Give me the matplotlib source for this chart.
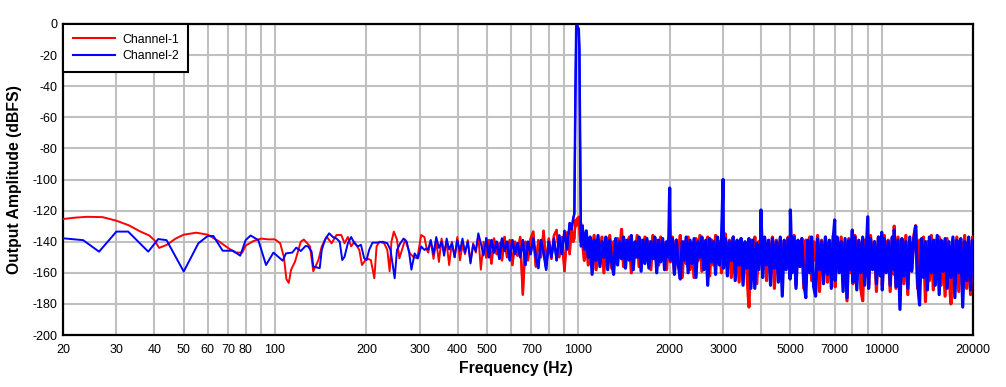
import matplotlib
matplotlib.use("Agg")
import matplotlib.pyplot as plt

plt.rcParams['font.family'] = ['Liberation Sans', 'DejaVu Sans']

# ---------------- data ----------------
freq_low_ch1 = [20, 22, 24, 27, 30, 33, 36, 38.5, 40, 41.5, 44, 47, 50, 55, 60, 65, 70, 74, 78, 80,
                85, 90, 95, 100, 104, 107, 109, 111, 113, 116.4, 121.6, 124.4, 130.4, 133.7, 139,
                142.6, 148, 153.6, 159.5, 165.4, 169.5, 173.8, 178.2, 182.7, 189.6, 193.5, 200.4,
                207, 212.5, 216.2, 220.7, 229, 234.5, 238.7, 242, 246.4, 252.4, 257, 268.5, 278.5,
                285.3, 294.5, 303.3, 310.8, 316.7]
amp_low_ch1 = [-125.4, -124.5, -124, -124.2, -126.5, -129.5, -133.5, -136, -139, -144, -142, -138,
               -135.5, -134.2, -135.5, -139.5, -144, -147, -147, -142.5, -139.5, -138, -138.5,
               -138.5, -141, -150, -164, -166.5, -158, -152.8, -140, -138.6, -143, -159, -151.8,
               -143, -136.8, -141, -135.7, -135.7, -141, -137, -143, -140, -145.3, -155, -150.7,
               -151.8, -163.5, -143, -140, -141, -145.3, -159, -140, -133.5, -138.6, -150.7,
               -138.6, -147.5, -149.7, -150.7, -135.7, -137, -145.3]

freq_low_ch2 = [20, 23.3, 26.3, 30, 32.8, 38.2, 41.2, 43.9, 50, 55.9, 60, 62.6, 67.2, 72.7, 76.8, 80,
                83.1, 88.1, 93.4, 98.8, 106, 108.7, 114, 117.5, 121.6, 126, 128.5, 132, 133.7,
                140.4, 142.6, 146.2, 150.8, 155.2, 159.5, 163.4, 166.6, 169.5, 173.8, 178.2, 182.7,
                187.3, 192, 196.8, 200.4, 204.3, 209.5, 217.8, 226.2, 234.5, 240.3, 248, 252.4,
                258.8, 265.3, 271.7, 277, 281.6, 288.6, 295.8, 303.3, 310.8, 316.7]
amp_low_ch2 = [-137.8, -139, -146.4, -133.5, -133.5, -146.4, -138.3, -139, -159.2, -141, -136.3,
               -136.3, -145.8, -145.8, -149, -139, -136, -139, -155, -147, -152.2, -147.5, -147,
               -143.8, -146, -142.8, -143, -146.4, -156, -157, -145.3, -138.6, -134.6, -137, -138,
               -140, -151.8, -149.7, -141, -137, -141, -143, -142, -150.7, -151.8, -145.3, -140.6,
               -140.6, -140, -141, -145.3, -163.5, -145.3, -141, -138, -140, -147.5, -158, -147.5,
               -150.7, -143, -145.3, -144.3]

# shared FFT bins above ~320 Hz
freq_high = [320, 326, 333, 340, 347, 354, 361, 368, 375, 383, 391, 399, 407, 415, 423, 432, 441,
             450, 459, 468, 477, 487, 497, 507, 517, 527, 538, 549, 560, 571, 582, 594, 606, 618,
             630, 643, 656, 669, 682, 696, 710, 724, 738, 753, 768, 783, 799, 815, 831, 848, 865,
             882, 900, 918, 936, 950, 962,
             970, 978, 984, 991, 997, 1003, 1008, 1014, 1020,
             1030, 1046, 1062, 1078, 1094, 1110, 1127, 1144, 1161, 1178,
             1196, 1214, 1232, 1250, 1269, 1288, 1307, 1327, 1347, 1367,
             1388, 1409, 1430, 1451, 1473, 1495, 1517, 1540, 1563, 1586,
             1610, 1634, 1658, 1683, 1708, 1734, 1760, 1786, 1813, 1840,
             1868, 1896, 1924, 1953, 1982, 2000, 2012, 2042, 2073, 2104,
             2136, 2168, 2200, 2233, 2267, 2301, 2335, 2370, 2406, 2442,
             2479, 2516, 2554, 2592, 2631, 2670, 2710, 2751, 2792, 2834,
             2877, 2920, 2964, 3000, 3008, 3053, 3099, 3146, 3193, 3241,
             3289, 3338, 3388, 3439, 3491, 3543, 3596, 3650, 3705, 3761,
             3817, 3874, 3932, 3991, 4000, 4051, 4112, 4173, 4236, 4300,
             4364, 4429, 4496, 4563, 4632, 4701, 4772, 4843, 4916, 4990,
             5000, 5065, 5141, 5218, 5296, 5376, 5456, 5538, 5621, 5706,
             5791, 5878, 5966, 6056, 6147, 6239, 6333, 6428, 6524, 6622,
             6721, 6822, 6924, 7000, 7028, 7134, 7241, 7350, 7460, 7572,
             7685, 7800, 7917, 8000, 8036, 8157, 8279, 8403, 8529, 8657,
             8787, 8919, 9000, 9053, 9189, 9327, 9467, 9609, 9753, 9899,
             10000, 10047, 10198, 10351, 10506, 10664, 10824, 10986, 11000, 11151,
             11318, 11488, 11660, 11835, 12013, 12193, 12376, 12562, 12750, 12941,
             13135, 13332, 13532, 13735, 13941, 14150, 14362, 14577, 14796, 15018,
             15243, 15472, 15704, 15940, 16179, 16422, 16668, 16918, 17172, 17430,
             17691, 17956, 18225, 18498, 18775, 19057, 19343, 19633, 19927, 20000]

amp_high_ch1 = [-147, -139, -151, -140, -153, -138, -146, -141, -155, -140, -150, -137, -152, -142,
                -148, -139, -153, -141, -147, -136, -158, -140, -150, -139, -154, -138, -148, -141,
                -152, -137, -150, -139, -155, -140, -149, -137, -174, -140, -152, -138, -133.5,
                -156, -139, -150, -133, -155, -138, -151, -136, -132.5, -150, -137, -159, -134,
                -148, -131, -140,
                -138, -126, -130, -125, -127, -124, -132, -140, -128,
                -138, -152, -135, -155, -140, -150, -136, -158, -141, -153,
                -137, -160, -139, -150, -136, -157, -140, -152, -138, -149,
                -132, -156, -139, -151, -137, -160, -141, -150, -136, -156,
                -139, -153, -137, -149, -140, -158, -136, -151, -139, -155,
                -137, -150, -141, -158, -138, -140, -153, -137, -160, -139,
                -151, -136, -163, -140, -154, -137, -158, -141, -163, -138,
                -152, -136, -159, -140, -150, -137, -162, -139, -155, -136,
                -150, -140, -160, -138, -150, -135, -157, -139, -163, -137,
                -152, -140, -166, -138, -155, -141, -160, -182, -139, -156,
                -137, -167, -140, -150, -120, -158, -138, -165, -140, -154,
                -137, -170, -139, -152, -138, -160, -141, -150, -137, -163,
                -140, -156, -136, -168, -140, -152, -138, -170, -139, -157,
                -137, -165, -140, -152, -136, -172, -139, -158, -137, -166,
                -140, -154, -136, -141, -169, -138, -156, -137, -165, -140,
                -178, -138, -160, -139, -167, -136, -155, -140, -170, -178,
                -139, -162, -138, -168, -136, -157, -140, -172, -137, -160,
                -139, -168, -136, -158, -139, -172, -138, -161, -130, -170,
                -137, -160, -139, -167, -136, -174, -140, -158, -137, -129.7,
                -170, -139, -160, -137, -178.5, -140, -165, -136, -171, -139,
                -158, -137, -168, -140, -175, -138, -162, -180, -139, -166,
                -137, -172, -140, -160, -136, -170, -139, -174, -137, -150]

amp_high_ch2 = [-145, -139, -148, -137, -144, -140, -149, -138, -145, -141, -150, -139, -146, -138,
                -147, -140, -154, -142, -146, -134.6, -141, -149, -138, -150, -139, -147, -140,
                -151, -138, -146, -140, -152, -139, -148, -141, -150, -139, -155, -140, -148,
                -138, -150, -157, -139, -147, -158, -140, -150, -138, -152, -136, -148, -133,
                -145, -128, -132, -125,
                -122, -45, -1.3, -1, -2.5, -3, -16, -80, -143,
                -130, -145, -133, -150, -137, -161, -139, -152, -136, -156,
                -140, -150, -137, -158, -139, -153, -161, -138, -155, -140,
                -151, -137, -157, -139, -152, -136, -158, -140, -150, -137,
                -159, -139, -154, -138, -157, -140, -151, -137, -160, -139,
                -153, -138, -158, -140, -150, -105.5, -152, -138, -161, -139,
                -155, -164, -140, -152, -137, -160, -139, -154, -138, -163,
                -140, -150, -137, -158, -139, -168, -138, -153, -140, -161,
                -137, -155, -139, -100, -157, -138, -162, -140, -152, -137,
                -165, -139, -155, -138, -168, -140, -157, -138, -170, -139,
                -170, -141, -158, -140, -119.6, -163, -137, -155, -139, -168,
                -138, -157, -140, -166, -137, -175, -139, -158, -138, -164,
                -119.6, -160, -137, -170, -139, -156, -138, -166, -176, -139,
                -160, -137, -169, -175, -138, -158, -140, -167, -137, -161,
                -139, -170, -138, -126, -165, -137, -160, -140, -172, -138,
                -176, -139, -158, -132.5, -166, -137, -171, -139, -160, -137,
                -168, -140, -124, -170, -138, -158, -140, -167, -137, -162,
                -134, -171, -138, -160, -140, -168, -137, -158, -132.5, -169,
                -139, -183.5, -138, -162, -140, -170, -137, -159, -139, -130,
                -166, -180.7, -138, -163, -140, -171, -137, -160, -139, -168,
                -136, -174, -139, -159, -138, -170, -140, -163, -137, -176,
                -139, -160, -138, -182, -140, -165, -137, -171, -139, -155]

series_names = ["Channel-1", "Channel-2"]
series_colors = ["#FF0000", "#0000FF"]

x_grid_ticks = [20, 30, 40, 50, 60, 70, 80, 90, 100, 200, 300, 400, 500, 600, 700, 800, 900,
                1000, 2000, 3000, 4000, 5000, 6000, 7000, 8000, 9000, 10000, 20000]
x_tick_labels = ["20", "30", "40", "50", "60", "70", "80", "", "100", "200", "300", "400", "500",
                 "", "700", "", "", "1000", "2000", "3000", "", "5000", "", "7000", "", "",
                 "10000", "20000"]
y_ticks = [0, -20, -40, -60, -80, -100, -120, -140, -160, -180, -200]

# ---------------- plot ----------------
fig = plt.figure(figsize=(10.06, 3.87), dpi=100)
ax = fig.add_axes([63 / 1006, 1 - 335 / 387, 910 / 1006, 311 / 387])

ch1_f = freq_low_ch1 + freq_high
ch1_a = amp_low_ch1 + amp_high_ch1
ch2_f = freq_low_ch2 + freq_high
ch2_a = amp_low_ch2 + amp_high_ch2

# where the spectrum becomes dense (many FFT bins per pixel)
mid_start = freq_high.index(497)
dense_start = freq_high.index(1030)

for full_f, full_a, amps_high, color, name, z in [
        (ch1_f, ch1_a, amp_high_ch1, series_colors[0], series_names[0], 3),
        (ch2_f, ch2_a, amp_high_ch2, series_colors[1], series_names[1], 4)]:
    ax.plot(full_f, full_a, color=color, lw=1.4, label=name, zorder=z)
    ax.plot(freq_high[mid_start:dense_start + 1], amps_high[mid_start:dense_start + 1],
            color=color, lw=1.8, zorder=z)
    ax.plot(freq_high[dense_start:], amps_high[dense_start:], color=color, lw=2.3, zorder=z)

ax.set_xscale("log")
ax.set_xlim(20, 20000)
ax.set_ylim(-200, 0)
ax.set_xticks(x_grid_ticks)
ax.set_xticklabels(x_tick_labels)
ax.xaxis.set_minor_locator(matplotlib.ticker.NullLocator())
ax.set_yticks(y_ticks)
ax.set_yticklabels([str(v) for v in y_ticks])
ax.grid(True, color="#C0C0C0", lw=1.5)
ax.set_axisbelow(True)
ax.tick_params(axis="both", length=0, labelsize=9, colors="black")
ax.tick_params(axis="x", pad=6.7)
ax.tick_params(axis="y", pad=4.3)
for s in ax.spines.values():
    s.set_linewidth(1.6)
    s.set_color("black")

ax.set_xlabel("Frequency (Hz)", fontsize=11.3, fontweight="bold")
ax.set_ylabel("Output Amplitude (dBFS)", fontsize=11.3, fontweight="bold")
ax.xaxis.set_label_coords(0.498, -0.0836)
ax.yaxis.set_label_coords(-0.045, 0.5)

leg = ax.legend(loc="upper left", bbox_to_anchor=(0, 1), borderaxespad=0, fontsize=8.8,
                frameon=True, fancybox=False, edgecolor="black", framealpha=1,
                handlelength=3.5, handletextpad=0.55, borderpad=0.78, labelspacing=0.4)
leg.get_frame().set_linewidth(1.5)
for line in leg.get_lines():
    line.set_linewidth(1.5)

fig.savefig("out.png", dpi=100)
